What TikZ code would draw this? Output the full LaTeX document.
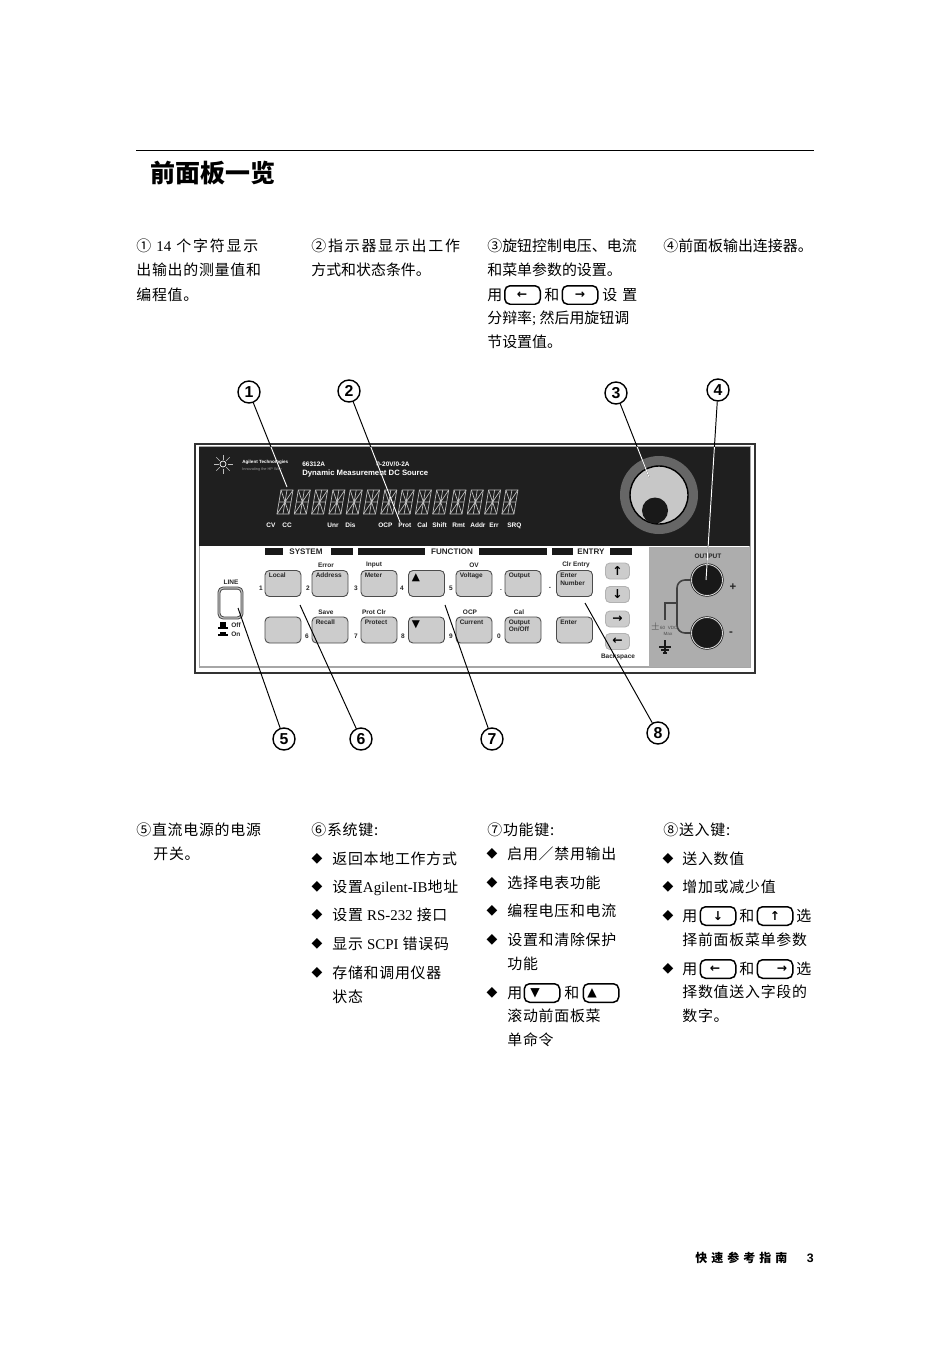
\documentclass[tikz,border=0pt]{standalone}
\usepackage{fontspec}
\setmainfont{Liberation Serif}
\setsansfont{Liberation Sans}
\newfontfamily\cjk{Noto Sans CJK SC}
\newfontfamily\cjkw[LetterSpace=5]{Noto Sans CJK SC}
\newfontfamily\cjkww[LetterSpace=12]{Noto Sans CJK SC}
\newfontfamily\symb{DejaVu Sans}
\begin{document}
\begin{tikzpicture}[x=0.02cm,y=-0.02cm,
  body/.style={anchor=base west,inner sep=0pt,yshift=-3pt,font=\fontsize{8.5}{10}\selectfont\cjkw},
  tight/.style={body,font=\fontsize{8.5}{10}\selectfont\cjk},
  wide/.style={body,font=\fontsize{8.5}{10}\selectfont\cjkww},
  softkey/.style={draw=black,line width=.85pt,rounded corners=3pt,minimum width=.71cm,minimum height=.37cm,inner sep=0pt},
  softicon/.style={inner sep=0pt,font=\fontsize{7}{8}\selectfont\symb\bfseries},
  panelkey/.style={draw=black!70,line width=.5pt,fill=black!20,rounded corners=2.5pt,minimum width=.72cm,minimum height=.52cm,inner sep=0pt},
  arrowkey/.style={panelkey,draw=black!30,minimum width=.48cm,minimum height=.32cm},
  small/.style={inner sep=0pt,font=\fontsize{3.7}{4.2}\selectfont\sffamily\bfseries,text=black!85},
  keytext/.style={small,anchor=north west,align=left},
  headbar/.style={fill=black!90,draw=none},
  callout/.style={circle,draw=black,line width=.8pt,fill=white,minimum size=.44cm,inner sep=0pt,font=\fontsize{9}{10}\selectfont\sffamily\bfseries},
  pointer/.style={line width=.55pt},
  terminal/.style={circle,fill=black!90,draw=black!90,double=black!15,double distance=.5pt,minimum size=.62cm,inner sep=0pt},
  wire/.style={draw=black!75,line width=.9pt,rounded corners=4.5pt}]
\useasboundingbox (0,0) rectangle (950,1345);
\draw[line width=.5pt] (136,150) -- (814,150);
\node[anchor=base west,inner sep=0pt,font=\fontsize{14.2}{16}\selectfont\cjk\bfseries] (title) at (150,182) {前面板一览};
% upper text columns
\foreach \x/\y/\st/\txt [count=\i] in {
  136/246/wide/{① {\rmfamily 14} 个字符显示},136/270/body/{出输出的测量值和},136/295/body/{编程值。},
  311/246/wide/{②指示器显示出工作},311/270/tight/{方式和状态条件。},
  487/246/tight/{③旋钮控制电压、电流},487/270/tight/{和菜单参数的设置。},487/295/tight/{用},544/295/tight/{和},602/295/wide/{设 置},
  487/318/tight/{分辩率{\rmfamily ;} 然后用旋钮调},487/342/tight/{节设置值。},
  663/246/tight/{④前面板输出连接器。}}
  \node[\st] (upper\i) at (\x,\y) {\txt};
% lower text columns
\foreach \x/\y/\txt [count=\i] in {
  136/830/{⑤直流电源的电源},153/854/{开关。},
  311/830/{⑥系统键:},332/859/{返回本地工作方式},332/887/{设置{\rmfamily Agilent-IB}地址},332/915/{设置 {\rmfamily RS-232} 接口},332/944/{显示 {\rmfamily SCPI} 错误码},332/973/{存储和调用仪器},332/997/{状态},
  487/830/{⑦功能键:},507/854/{启用／禁用输出},507/883/{选择电表功能},507/911/{编程电压和电流},507/940/{设置和清除保护},507/964/{功能},507/993/{用},564/993/{和},507/1016/{滚动前面板菜},507/1040/{单命令},
  663/830/{⑧送入键:},682/859/{送入数值},682/887/{增加或减少值},682/916/{用},739/916/{和},796/916/{选},682/940/{择前面板菜单参数},682/969/{用},739/969/{和},796/969/{选},682/992/{择数值送入字段的},682/1016/{数字。}}
  \node[body] (lower\i) at (\x,\y) {\txt};
% bullets
\foreach \x/\y [count=\i] in {317/859,317/887,317/915,317/944,317/973,492/854,492/883,492/911,492/940,492/993,668/859,668/887,668/916,668/969}
  \node[inner sep=0pt,font=\fontsize{8}{9}\selectfont\symb] (dot\i) at (\x,\y) {◆};
% keys inside the text
\foreach \x/\y/\ix/\sym [count=\i] in {
  522.5/295/522/←,580/295/580/→,542/993/535/▼,601/993/592/▲,
  718/916/718/↓,775/916/775/↑,718/969/715/←,775/969/782/→} {
  \node[softkey] (inl\i) at (\x,\y) {};
  \node[softicon] (ico\i) at (\ix,\y) {\sym};
}
% panel
\draw[draw=black!80,line width=.8pt,fill=white] (195,444) rectangle (755,673);
\draw[draw=black!35,line width=1pt] (199.5,447) rectangle (750,667);
\fill[black!88] (199,447) rectangle (750,546);
\fill[black!32] (649,547) rectangle (750,667);
\coordinate (logo) at (223,464);
\foreach \a in {0,45,...,315} \draw[black!25,line width=.3pt] (logo) ++(\a:4.5) -- ++(\a:5);
\draw[white,line width=.4pt] (logo) circle (3);
\node[small,anchor=west,text=white,font=\fontsize{2.6}{3}\selectfont\sffamily\bfseries] (brand) at (242,462) {Agilent Technologies};
\node[small,anchor=west,text=black!40,font=\fontsize{2.2}{3}\selectfont\sffamily] (motto) at (242,469) {Innovating the HP Way};
\node[small,anchor=west,text=white] (model) at (302,464) {66312A};
\node[small,anchor=west,text=white] (range) at (376,464) {0-20V/0-2A};
\node[small,anchor=west,text=white,font=\fontsize{4.4}{5}\selectfont\sffamily\bfseries] (source) at (302,473) {Dynamic Measurement DC Source};
% display characters
\foreach \i in {0,...,13} {
  \pgfmathsetmacro\xa{277+17.3*\i}
  \draw[black!25,line width=.4pt] (\xa,514) -- (\xa+12,514) -- (\xa+16,490) -- (\xa+4,490) -- cycle;
  \draw[black!25,line width=.4pt] (\xa+2,502) -- (\xa+14,502) (\xa+4,490) -- (\xa+12,514) (\xa+16,490) -- (\xa,514) (\xa+10,490) -- (\xa+6,514);
}
\foreach \x/\txt [count=\i] in {266/CV,282/CC,327/Unr,345/Dis,378/OCP,398/Prot,417/Cal,432/Shift,452/Rmt,470/Addr,489/Err,507/SRQ}
  \node[small,anchor=base west,text=white] (ann\i) at (\x,527) {\txt};
% knob
\fill[black!60] (659,495) circle (39);
\draw[black,fill=black!22,line width=.8pt] (659,495) circle (29);
\fill[black!90] (655,510.5) circle (13);
% section headers
\foreach \a/\b in {265/283,331/353,358/425,479/547,552/573,610/632} \fill[headbar] (\a,548) rectangle (\b,555);
\foreach \x/\txt [count=\i] in {306/SYSTEM,452/FUNCTION,591/ENTRY}
  \node[small,font=\fontsize{4.6}{5}\selectfont\sffamily\bfseries] (head\i) at (\x,551.5) {\txt};
% main keys
\foreach \x/\y/\txt [count=\i] in {
  283/583.5/Local,330/583.5/Address,379/583.5/Meter,426.5/583.5/{},474/583.5/Voltage,523/583.5/Output,574.5/583.5/{Enter\\Number},
  283/630/{},330/630/Recall,379/630/Protect,426.5/630/{},474/630/Current,523/630/{Output\\On/Off},574.5/630/Enter} {
  \node[panelkey] (key\i) at (\x,\y) {};
  \node[keytext] (keytxt\i) at ([xshift=2.2pt,yshift=-1.6pt]key\i.north west) {\txt};
}
\node[inner sep=0pt,font=\fontsize{6}{7}\selectfont\symb] (scrollup) at (416,578) {▲};
\node[inner sep=0pt,font=\fontsize{6}{7}\selectfont\symb] (scrolldown) at (416,625) {▼};
% labels over the keys
\foreach \x/\y/\txt [count=\i] in {326/565/Error,374/565/Input,474/565/OV,576/565/Clr Entry,326/612/Save,374/612/Prot Clr,470/612/OCP,519/612/Cal,618/657/Backspace,231/582/LINE,708/556/OUTPUT}
  \node[small] (over\i) at (\x,\y) {\txt};
% digits beside the keys
\foreach \x/\y/\txt [count=\i] in {261/588/1,308/588/2,356/588/3,402/588/4,451/588/5,501/590/.,550/588/-,307/636/6,356/636/7,403/636/8,451/636/9,499/636/0}
  \node[small] (num\i) at (\x,\y) {\txt};
% arrow keys
\foreach \y/\sym [count=\i] in {571/↑,594.5/↓,619/→,641.5/←} {
  \node[arrowkey] (arr\i) at (617.5,\y) {};
  \node[softicon] (arrsym\i) at (617.5,\y) {\sym};
}
% line switch
\node[draw=black!75,line width=.5pt,double=black!25,double distance=.7pt,fill=white,rounded corners=2.5pt,minimum width=.46cm,minimum height=.6cm,inner sep=0pt] (switch) at (230.5,603) {};
\foreach \y/\h/\txt [count=\i] in {622/5/Off,631.5/2.5/On} {
  \fill (220,\y) rectangle (226,\y+\h);
  \fill (218,\y+\h) rectangle (228,\y+\h+1.5);
  \node[small,anchor=west] (pos\i) at (231,\y+3) {\txt};
}
% output side
\node[terminal] (plus) at (707,580) {};
\node[terminal] (minus) at (707,633) {};
\draw[wire] (plus.west) -- (677,580) -- (677,633) -- (minus.west);
\draw[draw=black!75,line width=.9pt] (677,603) -- (665,603) -- (665,620);
\node[small,font=\fontsize{6.5}{7}\selectfont\sffamily\bfseries] (pluslab) at (733,587) {+};
\node[small,font=\fontsize{6.5}{7}\selectfont\sffamily\bfseries] (minuslab) at (731,634) {-};
\node[small,font=\fontsize{2.6}{3}\selectfont\sffamily,text=black!70] (volts) at (664,627) {$\pm$60 \ VDC};
\node[small,font=\fontsize{2.6}{3}\selectfont\sffamily,text=black!70] (maxv) at (668,634) {Max};
\draw[black!90,line width=.8pt] (665,640) -- (665,652) (659,647) -- (671,647) (661,650) -- (669,650) (663,653) -- (667,653);
% callouts
\foreach \n/\x/\y in {1/249/392,2/349/391,3/616/393,4/718/390,5/284/739,6/361/739,7/492/739,8/658/733}
  \node[callout] (c\n) at (\x,\y) {\n};
\foreach \n/\x/\y in {1/287/487,2/400/522,3/649/477,4/706/580,5/238/608,6/300/605,7/445/605,8/585/603}
  \coordinate (e\n) at (\x,\y);
\foreach \n in {1,...,8} \draw[pointer] (c\n) -- (e\n);
\begin{scope}
  \clip (199,447) rectangle (750,546) (650,546) rectangle (750,600);
  \foreach \n in {1,2,3,4} \draw[pointer,white] (c\n) -- (e\n);
\end{scope}
% page foot
\node[anchor=base west,inner sep=0pt,font=\fontsize{6.8}{8}\selectfont\cjkww\bfseries] (foot) at (695,1262) {\addfontfeature{LetterSpace=34}快速参考指南};
\node[anchor=base east,inner sep=0pt,font=\fontsize{7}{8}\selectfont\sffamily\bfseries] (page) at (814,1262) {3};
\end{tikzpicture}
\end{document}
